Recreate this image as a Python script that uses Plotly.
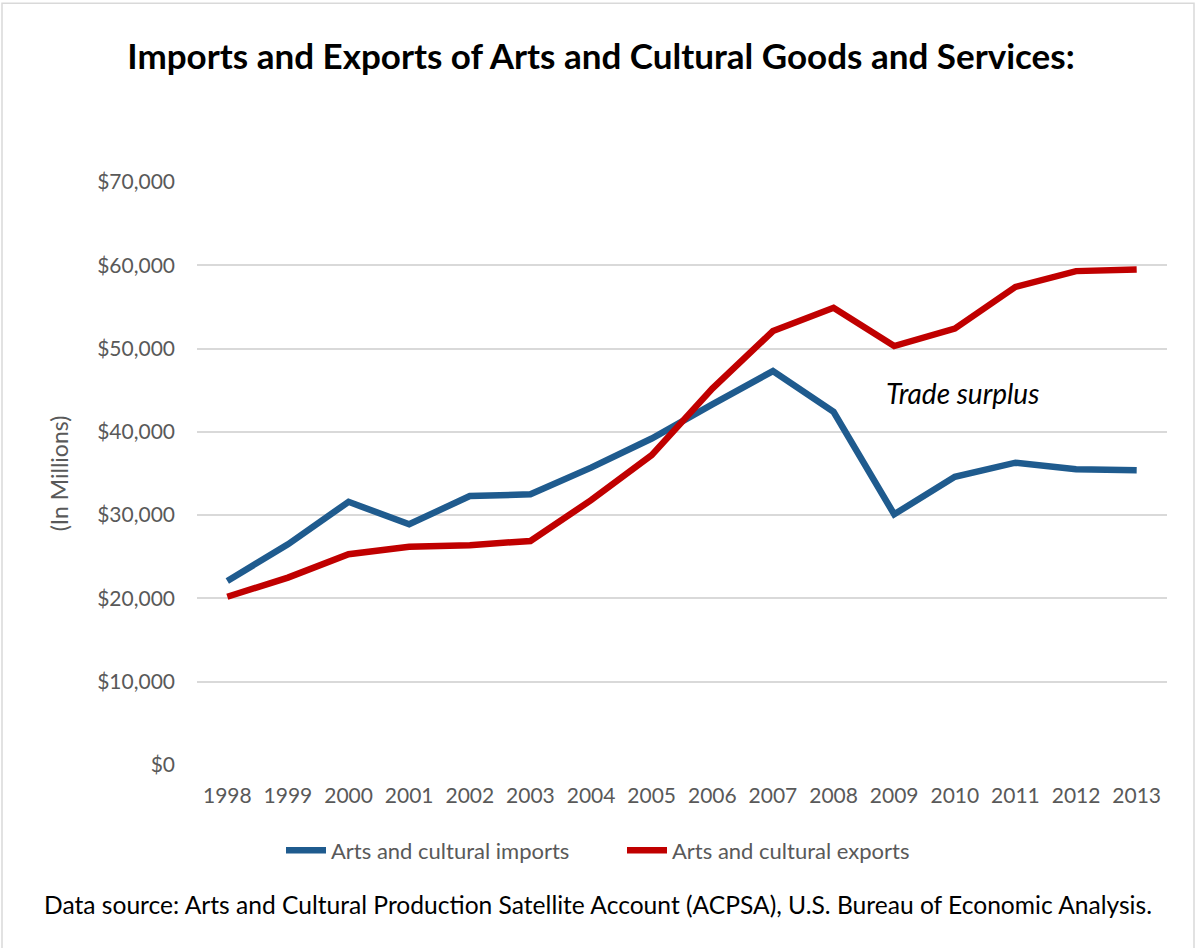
import plotly.graph_objects as go

years = ["1998", "1999", "2000", "2001", "2002", "2003", "2004", "2005",
         "2006", "2007", "2008", "2009", "2010", "2011", "2012", "2013"]
imports = [22100, 26500, 31600, 28900, 32300, 32500, 35700, 39200,
           43300, 47300, 42400, 30100, 34600, 36300, 35500, 35400]
exports = [20200, 22500, 25300, 26200, 26400, 26900, 31800, 37200,
           45200, 52100, 54900, 50300, 52400, 57400, 59300, 59500]
y_ticks = [0, 10000, 20000, 30000, 40000, 50000, 60000, 70000]
y_tick_labels = ["$0", "$10,000", "$20,000", "$30,000", "$40,000",
                 "$50,000", "$60,000", "$70,000"]

W, H = 1195, 948
ML, MR, MT, MB = 197, 28, 182, 182.5
PW, PH = W - ML - MR, H - MT - MB

FONT = "Lato"
GREY = "#595959"


def px_x(p):
    return (p - ML) / PW


def px_y(p):
    return (H - MB - p) / PH


fig = go.Figure()
fig.add_trace(go.Scatter(
    x=years, y=imports, mode="lines", name="Arts and cultural imports",
    line=dict(color="#1F5B8E", width=6.5),
))
fig.add_trace(go.Scatter(
    x=years, y=exports, mode="lines", name="Arts and cultural exports",
    line=dict(color="#C00000", width=6.5),
))

fig.update_layout(
    width=W, height=H,
    margin=dict(l=ML, r=MR, t=MT, b=MB),
    paper_bgcolor="white", plot_bgcolor="white",
    font=dict(family=FONT, color=GREY, size=21),
    title=dict(
        text="<b>Imports and Exports of Arts and Cultural Goods and Services:</b>",
        x=601 / W, xanchor="center", y=1 - 57 / H, yanchor="middle",
        font=dict(family=FONT, size=35, color="black"),
    ),
    xaxis=dict(
        type="category", range=[-0.5, 15.5],
        showgrid=False, zeroline=False, showline=False,
        ticks="", ticklabelstandoff=16,
        tickfont=dict(size=21, color=GREY),
    ),
    yaxis=dict(
        range=[0, 70000], tickvals=y_ticks, ticktext=y_tick_labels,
        showgrid=True, gridcolor="#D9D9D9", gridwidth=1.5,
        zeroline=False, showline=False, ticks="", ticklabelstandoff=21,
        tickfont=dict(size=21, color=GREY),
        title=dict(text="(In Millions)", standoff=22,
                   font=dict(size=23, color=GREY)),
    ),
    showlegend=True,
    legend=dict(
        orientation="h", x=px_x(622), xanchor="center",
        y=px_y(851), yanchor="middle",
        font=dict(size=22, color=GREY), itemwidth=40,
        entrywidth=286, entrywidthmode="pixels",
        bgcolor="rgba(0,0,0,0)",
    ),
    annotations=[
        dict(text="<i>Trade surplus</i>", x=12.12, y=44650,
             xref="x", yref="y", showarrow=False,
             font=dict(family=FONT, size=28, color="black")),
        dict(text="Data source: Arts and Cultural Production Satellite Account (ACPSA), "
                  "U.S. Bureau of Economic Analysis.",
             x=px_x(598), y=px_y(905), xref="paper", yref="paper",
             xanchor="center", yanchor="middle", showarrow=False,
             font=dict(family=FONT, size=24.6, color="black")),
    ],
    shapes=[
        dict(type="rect", xref="paper", yref="paper",
             x0=px_x(2), x1=px_x(1194), y0=px_y(952), y1=px_y(3),
             line=dict(color="#D9D9D9", width=1.5), layer="below"),
    ],
)

fig.write_html("out.html")
